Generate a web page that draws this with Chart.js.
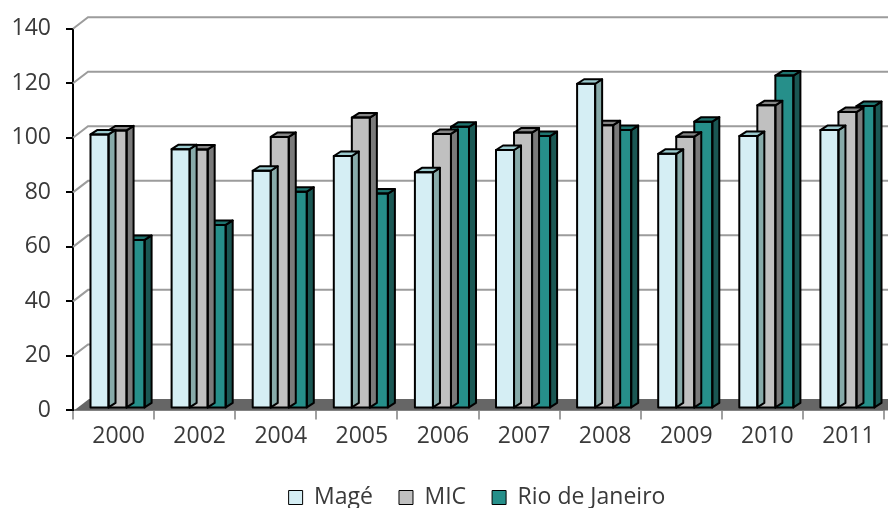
<!DOCTYPE html>
<html>
<head>
  <meta charset="utf-8">
  <script src="https://cdn.jsdelivr.net/npm/chart.js@4.4.1/dist/chart.umd.min.js"></script>
  <style>
    body { margin: 0; background: #fff; }
    #wrap { position: relative; width: 888px; height: 508px; }
  </style>
</head>
<body>
  <div id="wrap"><canvas id="myChart"></canvas></div>
  <script type="text/javascript">
    // data
    var years = ['2000', '2002', '2004', '2005', '2006', '2007', '2008', '2009', '2010', '2011'];
    var mage = [100.5, 95.1, 87.2, 92.6, 86.6, 94.8, 119.1, 93.4, 99.9, 102.1];
    var mic = [102.0, 95.0, 99.6, 106.7, 100.7, 101.2, 103.9, 99.7, 111.2, 108.7];
    var rio = [61.8, 67.3, 79.5, 78.8, 103.3, 99.9, 102.1, 105.2, 122.1, 110.9];
    var yTicks = [0, 20, 40, 60, 80, 100, 120, 140];

    var textColor = '#3a3a3a';
    var wall = { dx: 15, dy: -11.5 };   // back wall offset
    var shift = { dx: 4, dy: -2 };      // bars stand a little behind the front edge
    var depth = { dx: 7, dy: 4.5 };     // bar depth

    function poly(ctx, pts, fill) {
      ctx.beginPath();
      ctx.moveTo(pts[0][0], pts[0][1]);
      for (var i = 1; i < pts.length; i++) ctx.lineTo(pts[i][0], pts[i][1]);
      ctx.closePath();
      ctx.fillStyle = fill;
      ctx.fill();
      ctx.stroke();
    }

    var threeD = {
      id: 'threeD',
      beforeDatasetsDraw: function(chart) {
        var ctx = chart.ctx, a = chart.chartArea, y = chart.scales.y;
        ctx.save();
        // back wall grid
        ctx.strokeStyle = '#9c9c9c';
        ctx.lineWidth = 2;
        yTicks.forEach(function(v) {
          if (v === 0) return;
          var py = y.getPixelForValue(v);
          ctx.beginPath();
          ctx.moveTo(a.left, py);
          ctx.lineTo(a.left + wall.dx, py + wall.dy);
          ctx.lineTo(chart.width, py + wall.dy);
          ctx.stroke();
        });
        // floor
        var p0 = y.getPixelForValue(0);
        ctx.fillStyle = '#666666';
        ctx.beginPath();
        ctx.moveTo(a.left + 1, p0);
        ctx.lineTo(a.right + 20, p0);
        ctx.lineTo(a.right + 20, p0 + wall.dy);
        ctx.lineTo(a.left + 1 + wall.dx, p0 + wall.dy);
        ctx.closePath();
        ctx.fill();
        ctx.restore();
      },
      beforeDatasetDraw: function(chart) {
        chart.ctx.save();
        chart.ctx.translate(shift.dx, shift.dy);
      },
      afterDatasetDraw: function(chart, args) {
        var ctx = chart.ctx;
        var ds = chart.data.datasets[args.index];
        ctx.lineWidth = 2;
        ctx.strokeStyle = '#000';
        ctx.lineJoin = 'round';
        args.meta.data.forEach(function(bar) {
          var p = bar.getProps(['x', 'y', 'base', 'width'], true);
          var l = p.x - p.width / 2, r = p.x + p.width / 2;
          poly(ctx, [[r, p.y], [r + depth.dx, p.y - depth.dy], [r + depth.dx, p.base - depth.dy], [r, p.base]], ds.sideColor);
          poly(ctx, [[l, p.y], [l + depth.dx, p.y - depth.dy], [r + depth.dx, p.y - depth.dy], [r, p.y]], ds.topColor);
          ctx.strokeRect(l, p.y, p.width, p.base - p.y);
        });
        ctx.restore();
      }
    };

    var legendShift = {
      id: 'legendShift',
      afterLayout: function(chart) {
        var lg = chart.legend;
        lg.left += 35; lg.right += 35;
        lg.top += 11; lg.bottom += 11;
      }
    };

    var ctx = document.getElementById('myChart').getContext('2d');
    var chart = new Chart(ctx, {
      type: 'bar',
      data: {
        labels: years,
        datasets: [{
            label: 'Magé',
            data: mage,
            backgroundColor: '#d5eef4',
            topColor: '#9ccbcf',
            sideColor: '#87aaa9',
            borderWidth: 0
          },
          {
            label: 'MIC',
            data: mic,
            backgroundColor: '#c0c0c0',
            topColor: '#858585',
            sideColor: '#7a7a7a',
            borderWidth: 0
          },
          {
            label: 'Rio de Janeiro',
            data: rio,
            backgroundColor: '#268f8a',
            topColor: '#1e746f',
            sideColor: '#1a5753',
            borderWidth: 0
          }
        ]
      },
      options: {
        responsive: true,
        maintainAspectRatio: false,
        animation: false,
        categoryPercentage: 0.667,
        barPercentage: 1.0,
        layout: { padding: { top: 23, right: 4, left: 0, bottom: 0 } },
        scales: {
          x: {
            afterFit: function(s) { s.height -= 4; },
            grid: { drawOnChartArea: false, color: '#a0a0a0', lineWidth: 2, tickLength: 9 },
            border: { color: '#a0a0a0', width: 2 },
            ticks: { color: textColor, font: { family: 'Open Sans', size: 23 }, padding: 3, labelOffset: 5, maxRotation: 0 }
          },
          y: {
            min: 0,
            max: 140,
            afterBuildTicks: function(s) { s.ticks = yTicks.map(function(v) { return { value: v }; }); },
            afterFit: function(s) { s.width = 73; },
            grid: { drawOnChartArea: false, color: '#000', lineWidth: 2, tickLength: 7 },
            border: { color: '#000', width: 2 },
            ticks: { color: textColor, font: { family: 'Open Sans', size: 23 }, padding: 15 }
          }
        },
        plugins: {
          tooltip: { enabled: false },
          legend: {
            position: 'bottom',
            labels: {
              color: textColor,
              font: { family: 'Open Sans', size: 23 },
              boxWidth: 14,
              boxHeight: 14,
              padding: 26,
              generateLabels: function(c) {
                return Chart.defaults.plugins.legend.labels.generateLabels(c).map(function(it) {
                  it.strokeStyle = '#000';
                  it.lineWidth = 1;
                  return it;
                });
              }
            }
          }
        }
      },
      plugins: [threeD, legendShift]
    });
  </script>
</body>
</html>
